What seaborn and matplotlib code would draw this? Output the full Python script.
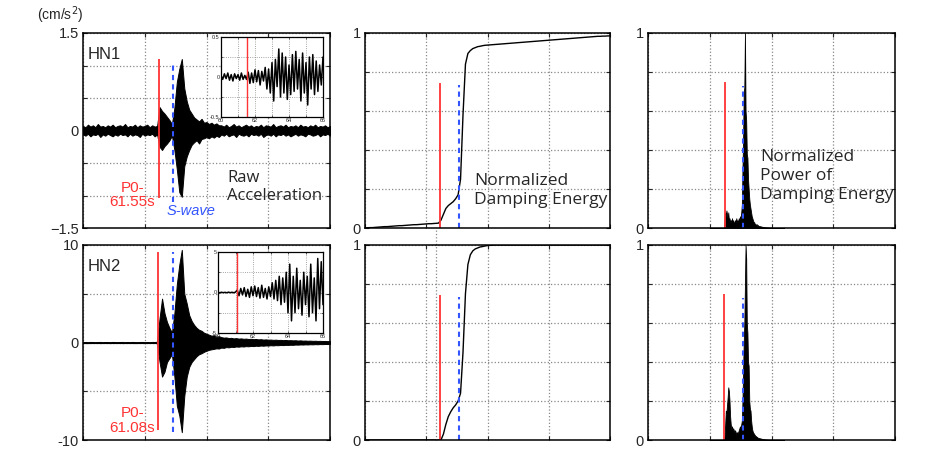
import numpy as np
import matplotlib
matplotlib.use("Agg")
import matplotlib.pyplot as plt
import seaborn as sns

# ---- values ----
channels = ["HN1", "HN2"]
p_labels = ["P0-\n61.55s", "P0-\n61.08s"]
p_time = [61.55, 61.08]
s_time = [72.5, 77.0, 77.3]          # s-wave marker as drawn in the 3 columns

# raw acceleration envelope, one value every 2 s from 0 to 200 s
up1 = [0.07, 0.05, 0.09, 0.06, 0.08, 0.05, 0.10, 0.06, 0.07, 0.05,
       0.08, 0.06, 0.09, 0.05, 0.07, 0.08, 0.06, 0.10, 0.05, 0.07,
       0.06, 0.09, 0.05, 0.08, 0.06, 0.07, 0.09, 0.05, 0.08, 0.06,
       0.07,
       0.36, 0.30, 0.26, 0.21, 0.16, 0.10, 0.35, 0.75, 0.95, 1.10,
       0.65, 0.45, 0.32, 0.26, 0.20, 0.17, 0.14, 0.18, 0.12, 0.13,
       0.10, 0.12, 0.09, 0.11, 0.08,
       0.08, 0.06, 0.09, 0.05, 0.07, 0.10, 0.06, 0.08, 0.05, 0.07,
       0.09, 0.06, 0.08, 0.05, 0.07, 0.06, 0.09, 0.05, 0.08, 0.07,
       0.06, 0.10, 0.05, 0.07, 0.08, 0.06, 0.09, 0.05, 0.07, 0.06,
       0.08, 0.05, 0.09, 0.06, 0.07, 0.05, 0.08, 0.06, 0.09, 0.05,
       0.07, 0.06, 0.08, 0.05, 0.07]
lo1 = [-0.06, -0.08, -0.05, -0.09, -0.06, -0.07, -0.05, -0.10, -0.06, -0.08,
       -0.05, -0.07, -0.09, -0.06, -0.08, -0.05, -0.07, -0.06, -0.09, -0.05,
       -0.08, -0.06, -0.07, -0.10, -0.05, -0.08, -0.06, -0.07, -0.05, -0.09,
       -0.06,
       -0.25, -0.30, -0.24, -0.20, -0.15, -0.08, -0.30, -0.60, -0.95, -1.02,
       -0.55, -0.40, -0.30, -0.22, -0.18, -0.15, -0.20, -0.13, -0.12, -0.10,
       -0.12, -0.09, -0.11, -0.08, -0.10,
       -0.06, -0.08, -0.05, -0.09, -0.07, -0.06, -0.10, -0.05, -0.07, -0.08,
       -0.06, -0.09, -0.05, -0.07, -0.06, -0.08, -0.05, -0.10, -0.07, -0.06,
       -0.08, -0.05, -0.09, -0.06, -0.07, -0.05, -0.08, -0.06, -0.09, -0.07,
       -0.05, -0.08, -0.06, -0.07, -0.09, -0.05, -0.06, -0.08, -0.07, -0.05,
       -0.09, -0.06, -0.07, -0.05, -0.08]
up2 = [0.04, 0.05, 0.04, 0.06, 0.05, 0.04, 0.05, 0.06, 0.04, 0.05,
       0.05, 0.04, 0.06, 0.05, 0.04, 0.05, 0.06, 0.04, 0.05, 0.04,
       0.06, 0.05, 0.04, 0.05, 0.06, 0.04, 0.05, 0.04, 0.06, 0.05,
       0.08,
       2.5, 4.5, 3.0, 2.1, 1.5, 1.0, 3.0, 6.0, 8.0, 9.5,
       5.0, 4.0, 2.8, 2.2, 1.8, 1.5, 1.3, 1.2, 1.0, 0.9,
       0.8, 0.7, 0.75, 0.6, 0.65,
       0.55, 0.50, 0.52, 0.45, 0.48, 0.42, 0.45, 0.40, 0.42, 0.38,
       0.40, 0.36, 0.38, 0.34, 0.36, 0.32, 0.34, 0.30, 0.32, 0.29,
       0.30, 0.27, 0.29, 0.26, 0.27, 0.24, 0.26, 0.23, 0.24, 0.22,
       0.23, 0.20, 0.22, 0.19, 0.20, 0.18, 0.19, 0.17, 0.18, 0.16,
       0.17, 0.15, 0.16, 0.14, 0.15]
lo2 = [-0.05, -0.04, -0.06, -0.05, -0.04, -0.05, -0.04, -0.06, -0.05, -0.04,
       -0.05, -0.06, -0.04, -0.05, -0.05, -0.04, -0.06, -0.05, -0.04, -0.05,
       -0.04, -0.06, -0.05, -0.04, -0.05, -0.06, -0.04, -0.05, -0.05, -0.04,
       -0.08,
       -2.0, -3.5, -3.0, -2.0, -1.6, -1.2, -3.5, -6.5, -7.5, -9.2,
       -5.5, -3.5, -2.5, -2.0, -1.7, -1.4, -1.2, -1.1, -0.95, -0.85,
       -0.75, -0.7, -0.65, -0.6, -0.62,
       -0.52, -0.55, -0.47, -0.50, -0.44, -0.46, -0.41, -0.43, -0.39, -0.41,
       -0.37, -0.39, -0.35, -0.37, -0.33, -0.35, -0.31, -0.33, -0.30, -0.31,
       -0.28, -0.30, -0.27, -0.28, -0.25, -0.27, -0.24, -0.25, -0.23, -0.24,
       -0.21, -0.22, -0.20, -0.21, -0.19, -0.20, -0.18, -0.19, -0.17, -0.18,
       -0.16, -0.17, -0.15, -0.16, -0.14]

# inset traces, one sample every 0.1 s from 60 to 66 s
ins1 = [0.02, -0.03, 0.04, -0.02, 0.05, -0.04, 0.03, -0.05, 0.04, -0.02,
        0.03, -0.04, 0.05, -0.03, 0.02, -0.03,
        0.06, -0.08, 0.05, -0.07, 0.09, -0.06, 0.08, -0.10, 0.07, -0.05,
        0.12, -0.15, 0.10, -0.20, 0.18, -0.30, 0.22, -0.12, 0.35, -0.25,
        0.30, -0.20, 0.25, -0.28, 0.15, -0.22, 0.28, -0.18, 0.32, -0.15,
        0.22, -0.30, 0.30, -0.20, 0.18, -0.35, 0.25, -0.15, 0.28, -0.22,
        0.20, -0.18, 0.15, -0.10, 0.25]
ins2 = [0.02, -0.03, 0.03, -0.02, 0.02, -0.03, 0.04, -0.02, 0.03, -0.03,
        0.05,
        0.3, -0.4, 0.5, -0.3, 0.6, -0.5, 0.4, -0.6, 0.7, -0.4,
        0.8, -0.5, 0.6, -0.7, 0.9, -0.6, 0.5, -0.8, 0.7, -0.5,
        1.2, -0.8, 1.5, -1.0, 2.0, -1.5, 1.8, -1.2, 2.5, -2.5,
        3.5, -3.5, 2.0, -2.5, 3.0, -2.0, 1.5, -2.8, 2.5, -1.5,
        2.0, -3.0, 3.5, -2.5, 1.8, -3.5, 4.2, -2.0, 3.8, -1.5]

# normalized damping energy, every 2 s from 0 to 200 s
energy1 = [0.000, 0.001, 0.002, 0.002, 0.003, 0.004, 0.005, 0.006, 0.007, 0.007,
           0.008, 0.009, 0.010, 0.011, 0.012, 0.012, 0.013, 0.014, 0.015, 0.016,
           0.017, 0.017, 0.018, 0.019, 0.020, 0.021, 0.022, 0.022, 0.023, 0.024,
           0.025,
           0.040, 0.070, 0.100, 0.115, 0.125, 0.135, 0.150, 0.170, 0.250, 0.580,
           0.840, 0.895, 0.910, 0.920, 0.925, 0.930, 0.932, 0.935, 0.937, 0.938,
           0.939, 0.940, 0.941, 0.942, 0.943, 0.944, 0.945, 0.946, 0.947, 0.948,
           0.949, 0.950, 0.951, 0.952, 0.953, 0.954, 0.955, 0.956, 0.957, 0.958,
           0.959, 0.960, 0.961, 0.962, 0.963, 0.964, 0.965, 0.966, 0.967, 0.968,
           0.969, 0.970, 0.971, 0.972, 0.973, 0.974, 0.975, 0.976, 0.977, 0.978,
           0.979, 0.980, 0.981, 0.982, 0.983, 0.983, 0.984, 0.984, 0.985, 0.985]
energy2 = [0.0, 0.0, 0.0, 0.0, 0.0, 0.0, 0.0, 0.0, 0.0, 0.0,
           0.0, 0.0, 0.0, 0.0, 0.0, 0.0, 0.0, 0.0, 0.0, 0.0,
           0.0, 0.0, 0.0, 0.0, 0.0, 0.0, 0.0, 0.0, 0.0, 0.0,
           0.0,
           0.000, 0.030, 0.080, 0.120, 0.145, 0.165, 0.180, 0.200, 0.240, 0.450,
           0.750, 0.900, 0.950, 0.970, 0.980, 0.985, 0.990, 0.992, 0.995, 0.997,
           0.998, 0.999, 1.0, 1.0, 1.0, 1.0, 1.0, 1.0, 1.0, 1.0,
           1.0, 1.0, 1.0, 1.0, 1.0, 1.0, 1.0, 1.0, 1.0, 1.0,
           1.0, 1.0, 1.0, 1.0, 1.0, 1.0, 1.0, 1.0, 1.0, 1.0,
           1.0, 1.0, 1.0, 1.0, 1.0, 1.0, 1.0, 1.0, 1.0, 1.0,
           1.0, 1.0, 1.0, 1.0, 1.0, 1.0, 1.0, 1.0, 1.0, 1.0]

# normalized power of damping energy, every 0.5 s from 50 to 110 s
power1 = [0, 0, 0, 0, 0, 0, 0, 0, 0, 0, 0, 0,
          0, 0, 0, 0, 0, 0, 0, 0, 0, 0, 0, 0,
          0.05, 0.08, 0.06, 0.09, 0.07, 0.05, 0.08, 0.04, 0.05, 0.03,
          0.04, 0.03, 0.05, 0.03, 0.04, 0.02, 0.03, 0.04, 0.03, 0.05,
          0.03, 0.04, 0.03, 0.05, 0.04, 0.06, 0.05, 0.08, 0.12, 0.30,
          0.45, 0.70, 0.72, 1.00, 0.60, 0.55, 0.38, 0.36, 0.25, 0.20,
          0.15, 0.12, 0.10, 0.08, 0.06, 0.05, 0.04, 0.03, 0.03, 0.02,
          0.02, 0.015, 0.02, 0.01, 0.015, 0.01, 0.01,
          0.008, 0.01, 0.006, 0.008, 0.005, 0.006, 0.004, 0.005, 0.003, 0.004,
          0.003, 0.002, 0.003, 0.002, 0.002, 0.001, 0.002, 0.001, 0.001, 0.001,
          0, 0, 0, 0, 0, 0, 0, 0, 0, 0,
          0, 0, 0, 0, 0, 0, 0, 0, 0, 0]
power2 = [0, 0, 0, 0, 0, 0, 0, 0, 0, 0, 0, 0,
          0, 0, 0, 0, 0, 0, 0, 0, 0, 0, 0, 0,
          0.02, 0.08, 0.15, 0.14, 0.18, 0.22, 0.27, 0.25, 0.20, 0.12,
          0.08, 0.06, 0.07, 0.05, 0.06, 0.05, 0.04, 0.05, 0.04, 0.03,
          0.04, 0.035, 0.04, 0.05, 0.06, 0.07, 0.06, 0.08, 0.10, 0.20,
          0.35, 0.50, 0.60, 0.80, 1.00, 0.93, 0.60, 0.55, 0.40, 0.38,
          0.20, 0.16, 0.15, 0.10, 0.07, 0.05, 0.04, 0.035, 0.03, 0.025,
          0.02, 0.02, 0.015, 0.015, 0.01, 0.01, 0.01,
          0.008, 0.009, 0.006, 0.007, 0.005, 0.005, 0.004, 0.004, 0.003, 0.003,
          0.002, 0.002, 0.002, 0.001, 0.001, 0.001, 0.001, 0, 0, 0,
          0, 0, 0, 0, 0, 0, 0, 0, 0, 0,
          0, 0, 0, 0, 0, 0, 0, 0, 0, 0]

t_wave = 2.0 * np.arange(len(up1))
t_ins = 60 + 0.1 * np.arange(len(ins1))
t_pow = 50 + 0.5 * np.arange(len(power1))

# ---- style ----
sns.set_style("ticks")
plt.rcParams["font.family"] = ["Liberation Sans", "DejaVu Sans"]
plt.rcParams["axes.linewidth"] = 1.1
ann_font = ["Open Sans", "DejaVu Sans"]
grid_kw = dict(color="#888888", linestyle=":", linewidth=0.9)

fig = plt.figure(figsize=(9.44, 4.53), dpi=100)
W, H = 944, 453


def px_axes(x0, y0, x1, y1):
    return fig.add_axes([x0 / W, 1 - y1 / H, (x1 - x0) / W, (y1 - y0) / H])


rows = [(33, 228), (245, 440)]
cols = [(83, 330), (365, 610), (648, 895)]


def frame(ax, yticks, ylabels):
    ax.set_xlim(0, 200)
    ax.set_xticks([0, 50, 100, 150, 200])
    ax.set_xticklabels([])
    ax.set_yticks(yticks)
    ax.set_yticklabels(ylabels, fontsize=10.5)
    ax.tick_params(direction="in", top=True, right=True, length=3, width=0.8, pad=3)
    ax.grid(True, **grid_kw)
    for s in ax.spines.values():
        s.set_visible(True)
        s.set_color("black")


amp = [1.5, 10]
ups = [up1, up2]
los = [lo1, lo2]
insets = [ins1, ins2]
ins_lim = [0.5, 5]
ins_pos = [(221, 37, 323, 117), (218, 252, 323, 333)]
energies = [energy1, energy2]
powers = [power1, power2]
p_text_y = [-0.66, -0.80]
p_span = [(-0.69, 0.73), (-0.90, 0.93)]
s_span = [(-0.73, 0.70), (-0.92, 0.93)]

for r in range(2):
    y0, y1 = rows[r]
    a = amp[r]

    # raw acceleration
    ax = px_axes(cols[0][0], y0, cols[0][1], y1)
    ax.fill_between(t_wave, los[r], ups[r], color="black", linewidth=0.7)
    ax.axhline(0, color="black", lw=0.8)
    ax.set_ylim(-a, a)
    if r == 0:
        frame(ax, [-1.5, -1, -0.5, 0, 0.5, 1, 1.5], ["\u22121.5", "", "", "0", "", "", "1.5"])
    else:
        frame(ax, [-10, -5, 0, 5, 10], ["-10", "", "0", "", "10"])
    ax.vlines(p_time[r], p_span[r][0] * a, p_span[r][1] * a, color="#ff3333", lw=1.3)
    ax.vlines(s_time[0], s_span[r][0] * a, s_span[r][1] * a, color="#3355ff", lw=1.5,
              linestyles=(0, (2.5, 2)))
    ax.text(0.02, 0.93, channels[r], transform=ax.transAxes, fontsize=12,
            va="top", ha="left")
    ax.text(40, p_text_y[r] * a, p_labels[r], color="#ff3333",
            fontsize=11, ha="center", va="center", linespacing=1.05)
    if r == 0:
        ax.text(117, -0.58 * a, "Raw\nAcceleration", fontsize=12, family=ann_font,
                ha="left", va="center", linespacing=1.15)
        ax.text(68, -0.83 * a, "S-wave", color="#3355ff", fontsize=10.5,
                style="italic", ha="left", va="center")
        fig.text(60 / W, 1 - 15 / H, "(cm/s$^2$)", fontsize=10, ha="center", va="center")

    # inset
    x0i, y0i, x1i, y1i = ins_pos[r]
    axi = px_axes(x0i, y0i, x1i, y1i)
    sns.lineplot(x=t_ins, y=insets[r], ax=axi, color="black", lw=1.1)
    axi.set_xlim(60, 66)
    axi.set_ylim(-ins_lim[r], ins_lim[r])
    axi.set_xticks([60, 61, 62, 63, 64, 65, 66])
    axi.set_xticklabels(["60", "", "62", "", "64", "", "66"], fontsize=4)
    axi.set_yticks([-ins_lim[r], -ins_lim[r] / 2, 0, ins_lim[r] / 2, ins_lim[r]])
    yl = "%g" % ins_lim[r]
    axi.set_yticklabels(["-" + yl, "", "0", "", yl], fontsize=4)
    axi.tick_params(direction="in", top=True, right=True, length=1.5, width=0.5, pad=1)
    axi.grid(True, color="#888888", linestyle=":", linewidth=0.6)
    axi.axvline(p_time[r], color="#ff3333", lw=1.0)
    for s in axi.spines.values():
        s.set_color("black")
        s.set_linewidth(0.9)

    # normalized damping energy
    ax = px_axes(cols[1][0], y0, cols[1][1], y1)
    sns.lineplot(x=t_wave, y=energies[r], ax=ax, color="black", lw=1.0)
    ax.set_ylim(0, 1)
    frame(ax, [0, 0.2, 0.4, 0.6, 0.8, 1.0], ["0", "", "", "", "", "1"])
    ax.vlines(p_time[r], 0, 0.745, color="#ff3333", lw=1.3)
    ax.vlines(s_time[1], 0, 0.735, color="#3355ff", lw=1.5, linestyles=(0, (2.5, 2)))
    if r == 0:
        ax.text(89, 0.19, "Normalized\nDamping Energy", fontsize=12.5,
                family=ann_font, ha="left", va="center", linespacing=1.25)
    else:
        ax.axvline(58, ymin=0, ymax=1.08, clip_on=False, **grid_kw)

    # normalized power of damping energy
    ax = px_axes(cols[2][0], y0, cols[2][1], y1)
    ax.fill_between(t_pow, 0, powers[r], color="black", linewidth=0.6)
    ax.set_ylim(0, 1)
    frame(ax, [0, 0.2, 0.4, 0.6, 0.8, 1.0], ["0", "", "", "", "", "1"])
    ax.vlines(p_time[r] + 0.6, 0, 0.75, color="#ff3333", lw=1.3)
    ax.vlines(s_time[2], 0, 0.73, color="#3355ff", lw=1.5, linestyles=(0, (2.5, 2)))
    if r == 0:
        ax.text(90.5, 0.265, "Normalized\nPower of\nDamping Energy", fontsize=12.5,
                family=ann_font, ha="left", va="center", linespacing=1.25)

fig.savefig("out.png", dpi=100)
